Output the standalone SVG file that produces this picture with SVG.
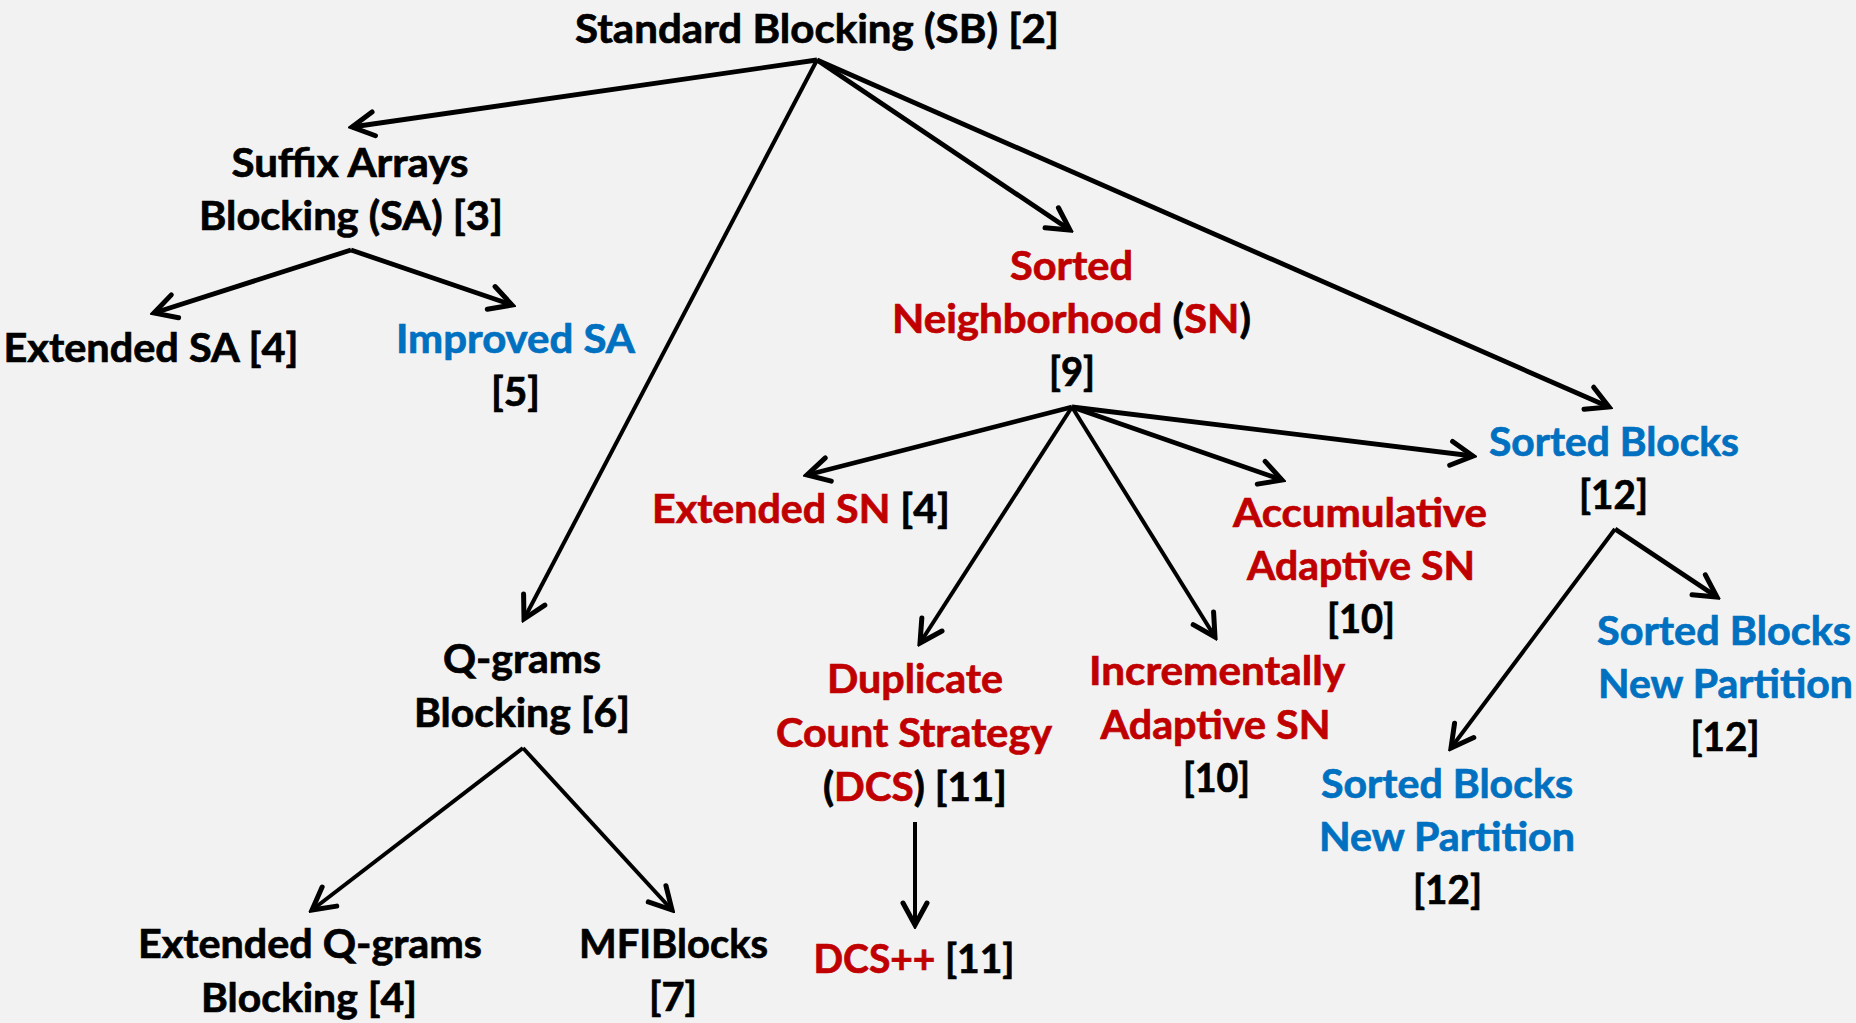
<svg xmlns="http://www.w3.org/2000/svg" width="1856" height="1023" viewBox="0 0 1856 1023">
<style>
text{font-family:Lato,"Open Sans","Liberation Sans",sans-serif;font-weight:700;font-size:40px;text-anchor:middle;fill:#000;stroke:#000;stroke-width:0.7}
.r{fill:#C00000;stroke:#C00000}
.b{fill:#0070C0;stroke:#0070C0}
.k{fill:#000;stroke:#000}
.e{fill:none;stroke:#000;stroke-width:4.8;marker-end:url(#ah)}
.t{stroke-width:4}
</style>
<defs>
<marker id="ah" markerUnits="userSpaceOnUse" viewBox="-28 -16 32 32" refX="0" refY="0" markerWidth="32" markerHeight="32" orient="auto">
<path d="M-22,-12 L0,0 L-22,12" fill="none" stroke="#000" stroke-width="5" stroke-linejoin="miter" stroke-linecap="round"/>
</marker>
</defs>
<rect width="1856" height="1023" fill="#F2F2F2"/>
<g id="connectors">
<path class="e" d="M817,60 L352,127"/>
<path class="e t" d="M817,60 L524,619"/>
<path class="e" d="M817,60 L1070,230"/>
<path class="e" d="M817,60 L1609,407"/>
<path class="e" d="M351,250 L154,313"/>
<path class="e" d="M351,250 L512,305"/>
<path class="e" d="M1072,407 L807,475"/>
<path class="e t" d="M1072,407 L920,643"/>
<path class="e t" d="M1072,407 L1215,637"/>
<path class="e" d="M1072,407 L1282,480"/>
<path class="e" d="M1072,407 L1473,456"/>
<path class="e t" d="M1615,529 L1451,748"/>
<path class="e" d="M1615,529 L1717,597"/>
<path class="e t" d="M523,748 L312,910"/>
<path class="e t" d="M523,748 L672,910"/>
<path class="e t" d="M915,822 L915,925"/>
</g>
<g id="sb"><text x="817" y="43" textLength="484" lengthAdjust="spacingAndGlyphs">Standard Blocking (SB) [2]</text></g>
<g id="sa">
<text x="350" y="177" textLength="237" lengthAdjust="spacingAndGlyphs">Suffix Arrays</text>
<text x="351" y="230" textLength="304" lengthAdjust="spacingAndGlyphs">Blocking (SA) [3]</text>
</g>
<g id="extsa"><text x="151" y="362" textLength="295" lengthAdjust="spacingAndGlyphs">Extended SA [4]</text></g>
<g id="impsa">
<text x="515.5" y="353" class="b" textLength="239" lengthAdjust="spacingAndGlyphs">Improved SA</text>
<text x="515.5" y="406" textLength="49" lengthAdjust="spacingAndGlyphs">[5]</text>
</g>
<g id="sn">
<text x="1071.5" y="280" class="r" textLength="123" lengthAdjust="spacingAndGlyphs">Sorted</text>
<text x="1071.5" y="333" textLength="359" lengthAdjust="spacingAndGlyphs"><tspan class="r">Neighborhood </tspan><tspan class="k">(</tspan><tspan class="r">SN</tspan><tspan class="k">)</tspan></text>
<text x="1072" y="386" textLength="46" lengthAdjust="spacingAndGlyphs">[9]</text>
</g>
<g id="extsn"><text x="801" y="523" textLength="298" lengthAdjust="spacingAndGlyphs"><tspan class="r">Extended SN </tspan><tspan class="k">[4]</tspan></text></g>
<g id="sortedblocks">
<text x="1614" y="456" class="b" textLength="250" lengthAdjust="spacingAndGlyphs">Sorted Blocks</text>
<text x="1613.5" y="509" textLength="69" lengthAdjust="spacingAndGlyphs">[12]</text>
</g>
<g id="aasn">
<text x="1360" y="527" class="r" textLength="254" lengthAdjust="spacingAndGlyphs">Accumulative</text>
<text x="1361" y="580" class="r" textLength="228" lengthAdjust="spacingAndGlyphs">Adaptive SN</text>
<text x="1361" y="633" textLength="68" lengthAdjust="spacingAndGlyphs">[10]</text>
</g>
<g id="dcs">
<text x="915" y="693" class="r" textLength="176" lengthAdjust="spacingAndGlyphs">Duplicate</text>
<text x="914" y="747" class="r" textLength="276" lengthAdjust="spacingAndGlyphs">Count Strategy</text>
<text x="915" y="801" textLength="184" lengthAdjust="spacingAndGlyphs"><tspan class="k">(</tspan><tspan class="r">DCS</tspan><tspan class="k">) [11]</tspan></text>
</g>
<g id="iasn">
<text x="1217" y="685" class="r" textLength="256" lengthAdjust="spacingAndGlyphs">Incrementally</text>
<text x="1215.5" y="739" class="r" textLength="230" lengthAdjust="spacingAndGlyphs">Adaptive SN</text>
<text x="1216.5" y="792" textLength="67" lengthAdjust="spacingAndGlyphs">[10]</text>
</g>
<g id="sbnp1">
<text x="1724" y="645" class="b" textLength="254" lengthAdjust="spacingAndGlyphs">Sorted Blocks</text>
<text x="1725.5" y="698" class="b" textLength="255" lengthAdjust="spacingAndGlyphs">New Partition</text>
<text x="1725" y="751" textLength="69" lengthAdjust="spacingAndGlyphs">[12]</text>
</g>
<g id="sbnp2">
<text x="1447" y="798" class="b" textLength="252" lengthAdjust="spacingAndGlyphs">Sorted Blocks</text>
<text x="1447" y="851" class="b" textLength="256" lengthAdjust="spacingAndGlyphs">New Partition</text>
<text x="1447.5" y="904" textLength="69" lengthAdjust="spacingAndGlyphs">[12]</text>
</g>
<g id="qgrams">
<text x="522" y="673" textLength="158" lengthAdjust="spacingAndGlyphs">Q-grams</text>
<text x="522" y="727" textLength="216" lengthAdjust="spacingAndGlyphs">Blocking [6]</text>
</g>
<g id="extq">
<text x="310" y="958" textLength="344" lengthAdjust="spacingAndGlyphs">Extended Q-grams</text>
<text x="309" y="1012" textLength="216" lengthAdjust="spacingAndGlyphs">Blocking [4]</text>
</g>
<g id="mfi">
<text x="673.5" y="958" textLength="189" lengthAdjust="spacingAndGlyphs">MFIBlocks</text>
<text x="673" y="1011" textLength="48" lengthAdjust="spacingAndGlyphs">[7]</text>
</g>
<g id="dcspp"><text x="914" y="973" textLength="201" lengthAdjust="spacingAndGlyphs"><tspan class="r">DCS++ </tspan><tspan class="k">[11]</tspan></text></g>
</svg>
